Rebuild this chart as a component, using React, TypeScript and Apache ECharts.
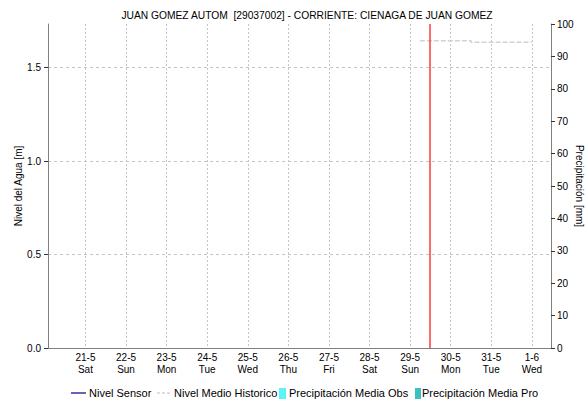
import React, { useEffect, useRef } from "react";
import * as echarts from "echarts";

// ---- data ----
const TITLE = "JUAN GOMEZ AUTOM  [29037002] - CORRIENTE: CIENAGA DE JUAN GOMEZ";
const dayLabels = ["21-5", "22-5", "23-5", "24-5", "25-5", "26-5", "27-5", "28-5", "29-5", "30-5", "31-5", "1-6"];
const weekdayLabels = ["Sat", "Sun", "Mon", "Tue", "Wed", "Thu", "Fri", "Sat", "Sun", "Mon", "Tue", "Wed"];
const seriesNames = ["Nivel Sensor", "Nivel Medio Historico", "Precipitación Media Obs", "Precipitación Media Pro"];
// times as [year, monthIndex, day, hour, minute]
const sensorTimes: number[][] = [];
const sensorValues: number[] = [];
const historicTimes = [
  [2022, 4, 29, 5, 45],
  [2022, 4, 30, 12, 0],
  [2022, 4, 30, 12, 0],
  [2022, 5, 1, 0, 0],
];
const historicValues = [1.643, 1.643, 1.636, 1.636];
const precipDays = [
  [2022, 4, 21], [2022, 4, 22], [2022, 4, 23], [2022, 4, 24], [2022, 4, 25], [2022, 4, 26],
  [2022, 4, 27], [2022, 4, 28], [2022, 4, 29], [2022, 4, 30], [2022, 4, 31], [2022, 5, 1],
];
const precipObs = [0, 0, 0, 0, 0, 0, 0, 0, 0, 0, 0, 0];
const precipPro = [0, 0, 0, 0, 0, 0, 0, 0, 0, 0, 0, 0];
const nowTime = [2022, 4, 29, 11, 30];
const xMin = [2022, 4, 20, 6, 50];
const xMax = [2022, 5, 1, 6, 20];
const levelTicks = [0, 0.5, 1.0, 1.5];
const levelMax = 1.733;
const precipMax = 100;
const precipInterval = 10;

const t = (a: number[]) => new Date(a[0], a[1], a[2], a[3] || 0, a[4] || 0).getTime();

const FONT = "'Liberation Sans', Arial, sans-serif";

export default function App() {
  const ref = useRef<HTMLDivElement>(null);
  useEffect(() => {
    if (!ref.current) return;
    const chart = echarts.init(ref.current, undefined, { renderer: "svg" });
    const dayStarts = precipDays.map((d) => t(d));
    const fmtX = (v: number) => {
      const d = new Date(v);
      if (d.getHours() !== 0 || d.getMinutes() !== 0) return "";
      const i = dayStarts.indexOf(v);
      if (i < 0) return "";
      return dayLabels[i] + "\n" + weekdayLabels[i];
    };
    const gridColor = "#c4c4c4";
    const axisGray = "#808080";
    const legendY = 393;
    chart.setOption({
      animation: false,
      textStyle: { fontFamily: FONT },
      title: {
        text: TITLE,
        left: 302,
        top: 5,
        textAlign: "center",
        textStyle: { fontSize: 10.25, fontWeight: "normal", color: "#000", fontFamily: FONT },
      },
      grid: { left: 48, right: 37, top: 24, bottom: 55, containLabel: false, outerBoundsMode: "none" },
      xAxis: [
        {
          type: "time",
          min: t(xMin),
          max: t(xMax),
          minInterval: 24 * 3600 * 1000,
          maxInterval: 24 * 3600 * 1000,
          axisLine: { show: true, lineStyle: { color: "#555", type: [1, 1], width: 1 } },
          axisTick: { show: false },
          axisLabel: {
            formatter: fmtX,
            fontSize: 10,
            lineHeight: 12,
            color: "#000",
            margin: 3,
            fontFamily: FONT,
            hideOverlap: false,
            showMinLabel: true,
            showMaxLabel: true,
          },
          splitLine: { show: true, lineStyle: { color: gridColor, type: [2, 2], width: 1 } },
        },
        {
          type: "time",
          position: "top",
          min: t(xMin),
          max: t(xMax),
          axisLine: { show: true, lineStyle: { color: axisGray, width: 1 } },
          axisTick: { show: false },
          axisLabel: { show: false },
          splitLine: { show: false },
        },
      ],
      yAxis: [
        {
          type: "value",
          min: 0,
          max: levelMax,
          interval: 0.5,
          position: "left",
          name: "Nivel del Agua [m]",
          nameLocation: "middle",
          nameRotate: 90,
          nameGap: 25,
          nameMoveOverlap: false,
          nameTextStyle: { fontSize: 10, color: "#000", fontFamily: FONT },
          axisLine: { show: true, lineStyle: { color: axisGray, width: 1 } },
          axisTick: { show: true, length: 4, inside: false, customValues: levelTicks, lineStyle: { color: "#333" } },
          axisLabel: {
            customValues: levelTicks,
            formatter: (v: number) => v.toFixed(1),
            fontSize: 10,
            color: "#000",
            margin: 7,
            fontFamily: FONT,
          },
          splitLine: { show: true, lineStyle: { color: gridColor, type: [3, 3], width: 1 } },
        },
        {
          type: "value",
          min: 0,
          max: precipMax,
          interval: precipInterval,
          position: "right",
          name: "Precipitación [mm]",
          nameLocation: "middle",
          nameRotate: -90,
          nameGap: 23,
          nameMoveOverlap: false,
          nameTextStyle: { fontSize: 10, color: "#000", fontFamily: FONT },
          axisLine: { show: true, lineStyle: { color: axisGray, width: 1 } },
          axisTick: { show: true, length: 4, inside: false, lineStyle: { color: "#333" } },
          axisLabel: { fontSize: 10, color: "#000", margin: 6, fontFamily: FONT },
          splitLine: { show: false },
        },
      ],
      series: [
        {
          name: seriesNames[2],
          type: "bar",
          yAxisIndex: 1,
          barWidth: 8,
          itemStyle: { color: "#5cf5f5" },
          data: dayStarts.map((d, i) => [d, precipObs[i]]),
        },
        {
          name: seriesNames[3],
          type: "bar",
          yAxisIndex: 1,
          barWidth: 8,
          itemStyle: { color: "#3cc0c0" },
          data: dayStarts.map((d, i) => [d, precipPro[i]]),
        },
        {
          name: seriesNames[1],
          type: "line",
          yAxisIndex: 0,
          showSymbol: false,
          symbol: "none",
          lineStyle: { color: "#d2d2d2", width: 1.5, type: [5, 2] },
          data: historicTimes.map((d, i) => [t(d), historicValues[i]]),
          z: 3,
        },
        {
          name: seriesNames[0],
          type: "line",
          yAxisIndex: 0,
          showSymbol: false,
          symbol: "none",
          lineStyle: { color: "#00008b", width: 1 },
          data: sensorTimes.map((d, i) => [t(d), sensorValues[i]]),
          markLine: {
            silent: true,
            symbol: "none",
            label: { show: false },
            lineStyle: { color: "#ff3b3b", width: 1.5, type: "solid" },
            data: [{ xAxis: t(nowTime) }],
          },
          z: 4,
        },
      ],
      graphic: [
        { type: "line", shape: { x1: 71, y1: legendY, x2: 86, y2: legendY }, style: { stroke: "#00008b", lineWidth: 1.2 } },
        { type: "text", x: 89, y: legendY, style: { text: seriesNames[0], fontSize: 11, fill: "#000", verticalAlign: "middle", fontFamily: FONT } },
        { type: "line", shape: { x1: 157, y1: legendY, x2: 171, y2: legendY }, style: { stroke: "#c0c0c0", lineWidth: 1.2, lineDash: [3, 2] } },
        { type: "text", x: 174, y: legendY, style: { text: seriesNames[1], fontSize: 11, fill: "#000", verticalAlign: "middle", fontFamily: FONT } },
        { type: "rect", shape: { x: 279, y: 388, width: 7, height: 11 }, style: { fill: "#5cf5f5" } },
        { type: "text", x: 289, y: legendY, style: { text: seriesNames[2], fontSize: 11, fill: "#000", verticalAlign: "middle", fontFamily: FONT } },
        { type: "rect", shape: { x: 415, y: 388, width: 6, height: 11 }, style: { fill: "#3cc0c0" } },
        { type: "text", x: 422, y: legendY, style: { text: seriesNames[3], fontSize: 11, fill: "#000", verticalAlign: "middle", fontFamily: FONT } },
      ],
    });
    return () => chart.dispose();
  }, []);
  return <div ref={ref} style={{ width: 588, height: 403, position: "absolute", left: 0, top: 0 }} />;
}
